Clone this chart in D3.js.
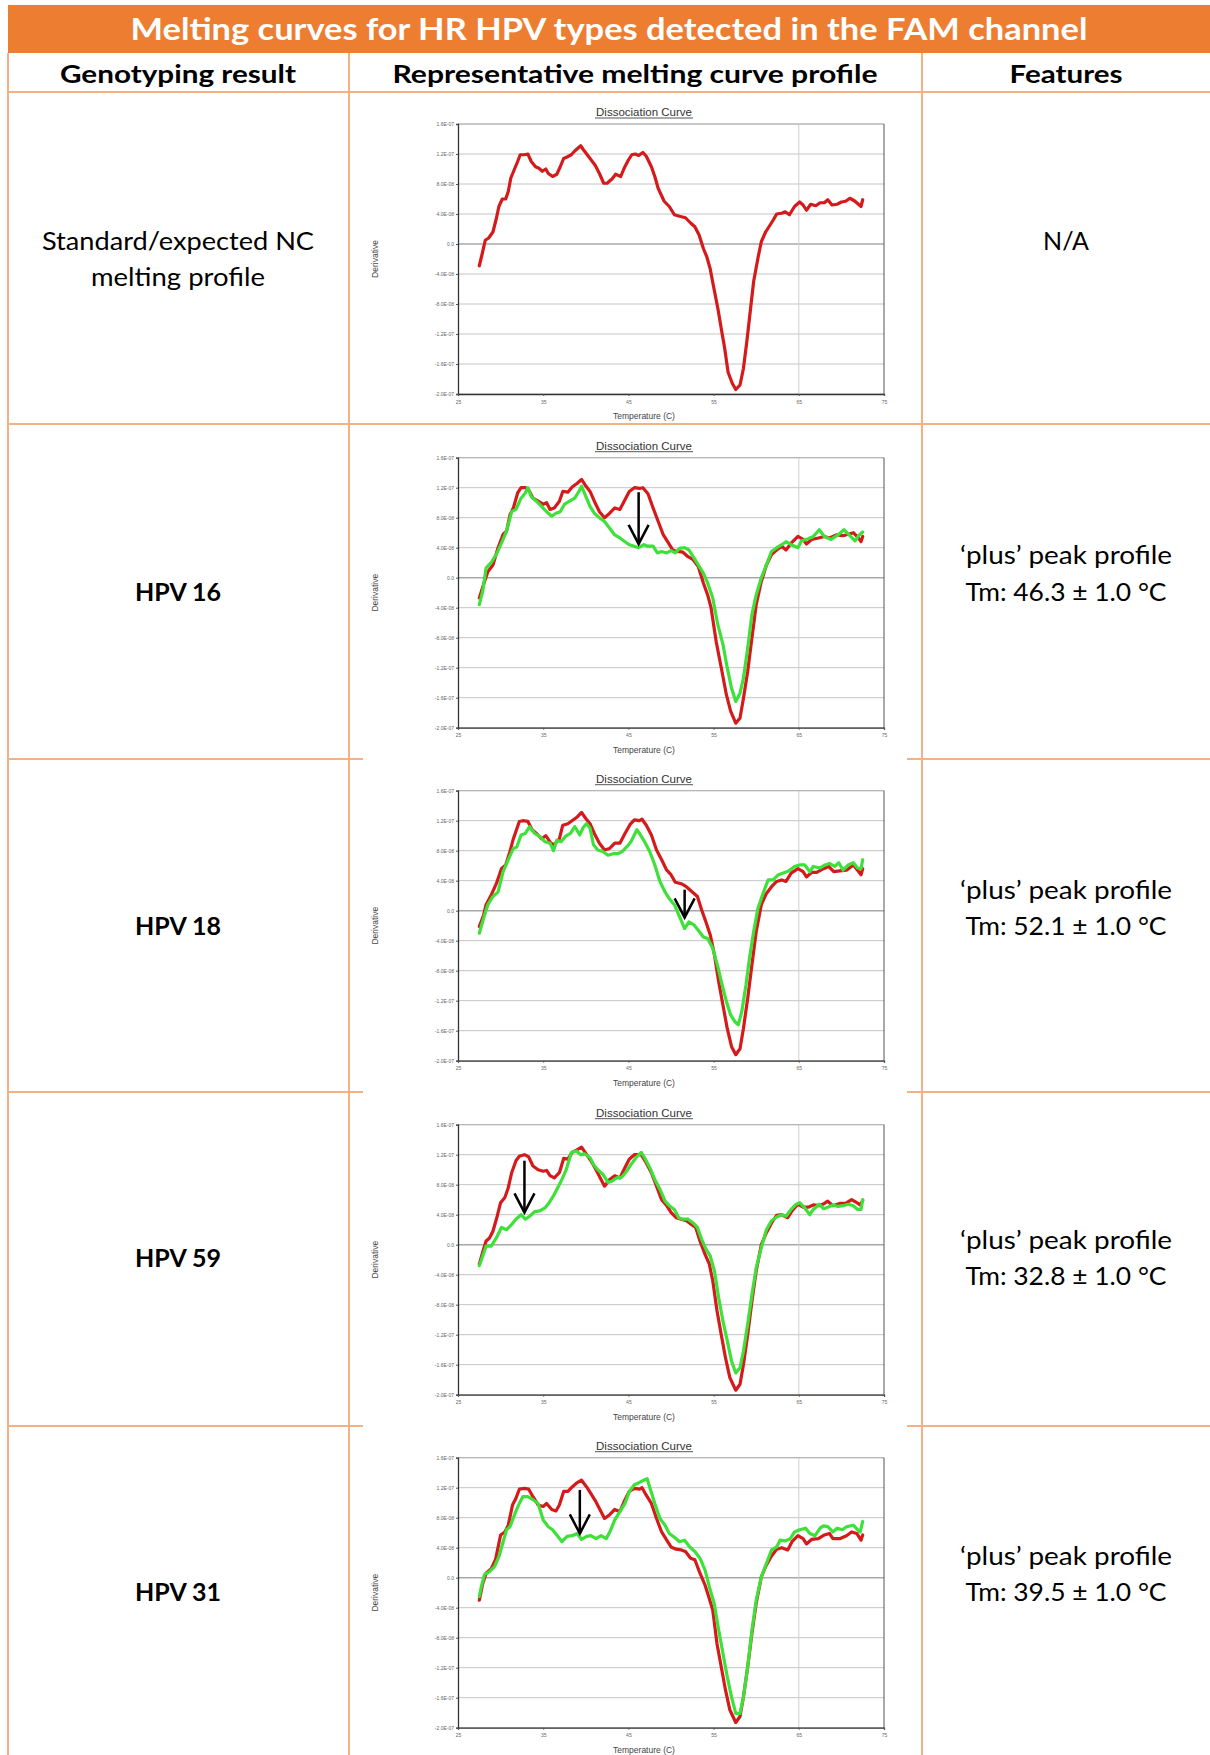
<!DOCTYPE html>
<html><head><meta charset="utf-8">
<script src="https://cdn.jsdelivr.net/npm/d3@7"></script>
<style>body{margin:0;background:#fff;} svg{display:block;}</style>
</head><body>
<svg id="c" width="1210" height="1755"></svg>
<script>
// ---------------- DATA ----------------
const tableTitle = "Melting curves for HR HPV types detected in the FAM channel";
const columnHeaders = ["Genotyping result", "Representative melting curve profile", "Features"];
const rowLabels = [["Standard/expected NC", "melting profile"], ["HPV 16"], ["HPV 18"], ["HPV 59"], ["HPV 31"]];
const rowLabelBold = [false, true, true, true, true];
const rowFeatures = [["N/A"],
  ["\u2018plus\u2019 peak profile", "Tm: 46.3 \u00b1 1.0 \u00b0C"],
  ["\u2018plus\u2019 peak profile", "Tm: 52.1 \u00b1 1.0 \u00b0C"],
  ["\u2018plus\u2019 peak profile", "Tm: 32.8 \u00b1 1.0 \u00b0C"],
  ["\u2018plus\u2019 peak profile", "Tm: 39.5 \u00b1 1.0 \u00b0C"]];

const chartTitle = "Dissociation Curve";
const xAxisTitle = "Temperature (C)";
const yAxisTitle = "Derivative";
const xTickValues = [25, 35, 45, 55, 65, 75];
const xTickLabels = ["25", "35", "45", "55", "65", "75"];
// derivative values in units of 1e-7
const yTickValues = [-2.0, -1.6, -1.2, -0.8, -0.4, 0, 0.4, 0.8, 1.2, 1.6];
const yTickLabels = ["-2.0E-07", "-1.6E-07", "-1.2E-07", "-8.0E-08", "-4.0E-08", "0.0", "4.0E-08", "8.0E-08", "1.2E-07", "1.6E-07"];
const xGridValues = [65];

// [temperature, derivative (x1e-7)]
const ncRed = [[27.5,-0.29],[27.8,-0.15],[28.2,0.05],[28.6,0.08],[29.1,0.16],[29.5,0.34],[29.8,0.50],[30.2,0.60],[30.6,0.60],[30.9,0.70],[31.2,0.88],[31.6,0.99],[32.0,1.10],[32.3,1.19],[32.8,1.19],[33.2,1.20],[33.6,1.10],[34.1,1.03],[34.5,1.01],[34.9,0.97],[35.3,1.00],[35.6,0.94],[36.1,0.90],[36.6,0.93],[37.0,1.03],[37.4,1.14],[37.8,1.16],[38.3,1.19],[38.7,1.24],[39.1,1.28],[39.4,1.31],[39.7,1.26],[40.1,1.20],[40.5,1.14],[41.1,1.05],[41.6,0.94],[42.1,0.81],[42.5,0.81],[43.1,0.87],[43.5,0.93],[44.1,0.90],[44.5,1.01],[45.0,1.12],[45.4,1.19],[45.8,1.20],[46.2,1.18],[46.7,1.22],[47.1,1.17],[47.7,1.03],[48.1,0.90],[48.5,0.74],[49.2,0.57],[49.8,0.50],[50.4,0.39],[51.0,0.37],[51.7,0.35],[52.3,0.28],[52.8,0.23],[53.3,0.12],[53.8,-0.06],[54.2,-0.17],[54.6,-0.33],[55.0,-0.57],[55.5,-0.86],[55.9,-1.13],[56.3,-1.39],[56.7,-1.71],[57.2,-1.86],[57.6,-1.94],[58.1,-1.88],[58.5,-1.66],[58.9,-1.30],[59.3,-0.90],[59.7,-0.50],[60.2,-0.19],[60.6,0.03],[61.1,0.16],[61.5,0.23],[62.0,0.32],[62.4,0.40],[63.0,0.41],[63.4,0.43],[63.9,0.39],[64.5,0.50],[65.1,0.56],[65.5,0.52],[65.9,0.45],[66.4,0.53],[67.0,0.51],[67.5,0.55],[68.0,0.55],[68.4,0.59],[68.9,0.52],[69.5,0.53],[70.0,0.56],[70.5,0.57],[71.0,0.61],[71.6,0.57],[72.0,0.53],[72.3,0.50],[72.5,0.59]];

const hpv16Red = [[27.5,-0.27],[28.0,-0.09],[28.5,0.08],[29.1,0.17],[29.7,0.40],[30.3,0.58],[30.7,0.62],[31.1,0.84],[31.5,0.93],[32.0,1.13],[32.4,1.20],[32.9,1.20],[33.3,1.17],[33.8,1.06],[34.4,1.02],[35.0,0.98],[35.4,1.00],[35.8,0.91],[36.3,0.93],[36.9,1.02],[37.3,1.15],[37.9,1.14],[38.4,1.21],[39.0,1.26],[39.5,1.31],[39.9,1.24],[40.5,1.15],[41.0,1.02],[41.6,0.88],[42.2,0.80],[42.8,0.86],[43.4,0.93],[44.0,0.91],[44.6,1.04],[45.1,1.15],[45.7,1.20],[46.3,1.19],[46.7,1.20],[47.3,1.12],[47.9,0.93],[48.5,0.75],[49.1,0.57],[49.6,0.48],[50.2,0.37],[50.7,0.35],[51.4,0.34],[52.0,0.28],[52.6,0.24],[53.2,0.15],[53.8,-0.07],[54.3,-0.23],[54.7,-0.40],[55.3,-0.85],[55.9,-1.20],[56.5,-1.56],[57.0,-1.78],[57.6,-1.94],[58.1,-1.87],[58.5,-1.61],[59.0,-1.25],[59.5,-0.80],[60.0,-0.36],[60.6,-0.05],[61.2,0.17],[61.8,0.31],[62.4,0.37],[63.0,0.42],[63.5,0.37],[64.1,0.46],[64.9,0.55],[65.5,0.51],[65.9,0.45],[66.5,0.51],[67.3,0.53],[68.0,0.55],[68.6,0.53],[69.4,0.57],[70.2,0.56],[70.8,0.58],[71.4,0.60],[72.0,0.53],[72.3,0.48],[72.5,0.55]];
const hpv16Green = [[27.5,-0.36],[27.9,-0.18],[28.3,0.13],[28.9,0.20],[29.5,0.31],[30.1,0.46],[30.7,0.62],[31.3,0.88],[31.8,0.91],[32.4,1.06],[32.9,1.13],[33.2,1.20],[33.6,1.08],[34.2,1.02],[34.8,0.95],[35.4,0.88],[36.0,0.82],[36.5,0.86],[37.0,0.88],[37.5,0.98],[38.1,1.02],[38.7,1.06],[39.2,1.15],[39.5,1.22],[39.9,1.11],[40.5,0.95],[41.0,0.86],[41.6,0.80],[42.2,0.75],[42.8,0.66],[43.4,0.57],[44.0,0.53],[44.6,0.48],[45.1,0.44],[45.7,0.42],[46.2,0.40],[46.8,0.44],[47.3,0.42],[47.9,0.42],[48.4,0.33],[48.9,0.35],[49.5,0.33],[50.0,0.36],[50.5,0.33],[51.0,0.39],[51.6,0.40],[52.1,0.37],[52.6,0.28],[53.2,0.17],[53.8,0.06],[54.3,-0.07],[54.9,-0.27],[55.5,-0.63],[56.1,-0.89],[56.6,-1.20],[57.1,-1.47],[57.6,-1.65],[58.1,-1.54],[58.5,-1.34],[59.0,-0.94],[59.5,-0.49],[60.0,-0.23],[60.6,0.00],[61.2,0.17],[61.8,0.35],[62.4,0.40],[63.0,0.44],[63.5,0.48],[64.1,0.44],[64.9,0.40],[65.3,0.49],[66.1,0.52],[66.7,0.55],[67.4,0.64],[68.0,0.55],[68.8,0.51],[69.6,0.57],[70.3,0.64],[70.9,0.57],[71.6,0.49],[72.1,0.57],[72.5,0.61]];

const hpv18Red = [[27.5,-0.21],[28.0,-0.06],[28.3,0.08],[28.9,0.21],[29.5,0.36],[30.1,0.56],[30.6,0.61],[31.1,0.79],[31.5,0.96],[32.2,1.19],[32.6,1.20],[33.2,1.19],[33.7,1.08],[34.2,1.03],[34.8,0.96],[35.3,1.00],[35.9,0.90],[36.3,0.88],[36.9,0.96],[37.3,1.14],[37.9,1.16],[38.5,1.21],[39.0,1.25],[39.5,1.31],[40.0,1.23],[40.5,1.16],[41.0,1.03],[41.6,0.90],[42.2,0.81],[42.8,0.83],[43.4,0.90],[44.0,0.90],[44.6,1.03],[45.2,1.15],[45.7,1.21],[46.3,1.20],[46.6,1.22],[47.1,1.14],[47.7,1.01],[48.3,0.81],[48.9,0.68],[49.5,0.54],[50.0,0.48],[50.5,0.38],[51.2,0.36],[51.8,0.32],[52.5,0.25],[53.1,0.19],[53.6,0.01],[54.1,-0.15],[54.6,-0.32],[55.1,-0.59],[55.6,-0.95],[56.1,-1.26],[56.6,-1.57],[57.1,-1.81],[57.6,-1.92],[58.1,-1.84],[58.5,-1.57],[59.0,-1.17],[59.5,-0.72],[60.0,-0.28],[60.6,0.08],[61.2,0.23],[61.8,0.32],[62.4,0.39],[63.0,0.41],[63.5,0.39],[64.1,0.50],[64.9,0.56],[65.5,0.52],[65.9,0.45],[66.5,0.51],[67.1,0.51],[67.9,0.56],[68.5,0.59],[69.1,0.52],[69.8,0.53],[70.6,0.54],[71.4,0.61],[71.9,0.54],[72.3,0.48],[72.5,0.56]];
const hpv18Green = [[27.5,-0.30],[28.0,-0.10],[28.5,0.08],[29.1,0.19],[29.7,0.25],[30.3,0.52],[30.9,0.68],[31.5,0.83],[31.9,0.85],[32.4,1.01],[32.9,1.03],[33.4,1.12],[34.0,1.03],[34.6,0.99],[35.2,0.92],[35.8,0.90],[36.2,0.80],[36.6,0.94],[37.1,0.92],[37.6,0.99],[38.2,1.03],[38.7,1.12],[39.3,1.01],[39.7,1.11],[40.1,1.16],[40.5,1.10],[40.9,0.88],[41.4,0.81],[42.0,0.79],[42.6,0.74],[43.2,0.76],[43.8,0.76],[44.3,0.79],[44.8,0.85],[45.3,0.92],[46.0,1.08],[46.3,1.03],[46.9,0.92],[47.5,0.79],[48.1,0.61],[48.7,0.39],[49.3,0.25],[49.8,0.16],[50.4,0.08],[51.0,-0.08],[51.6,-0.24],[52.1,-0.15],[52.7,-0.19],[53.2,-0.26],[53.8,-0.35],[54.3,-0.37],[54.9,-0.50],[55.5,-0.75],[56.0,-0.99],[56.5,-1.21],[57.0,-1.39],[57.5,-1.48],[57.9,-1.52],[58.3,-1.35],[58.8,-0.99],[59.2,-0.64],[59.7,-0.28],[60.2,0.03],[60.8,0.23],[61.4,0.41],[62.0,0.41],[62.6,0.48],[63.1,0.50],[63.8,0.53],[64.5,0.59],[65.1,0.61],[65.7,0.61],[66.3,0.52],[66.7,0.59],[67.5,0.57],[68.1,0.61],[68.6,0.63],[69.2,0.59],[69.7,0.64],[70.2,0.54],[70.8,0.61],[71.4,0.64],[71.9,0.57],[72.3,0.56],[72.5,0.68]];

const hpv59Red = [[27.5,-0.26],[28.0,-0.06],[28.3,0.05],[28.7,0.09],[29.1,0.18],[29.6,0.38],[30.0,0.56],[30.5,0.63],[30.9,0.76],[31.3,0.96],[31.8,1.12],[32.2,1.18],[32.8,1.20],[33.3,1.17],[33.8,1.05],[34.4,1.00],[35.0,0.98],[35.4,0.99],[35.8,0.92],[36.3,0.89],[36.9,0.96],[37.4,1.15],[37.9,1.14],[38.4,1.23],[38.9,1.26],[39.5,1.30],[40.1,1.20],[40.6,1.12],[41.2,1.00],[41.7,0.89],[42.2,0.78],[42.8,0.87],[43.4,0.92],[44.0,0.89],[44.6,1.03],[45.1,1.14],[45.7,1.20],[46.5,1.20],[47.1,1.09],[47.7,0.96],[48.3,0.78],[48.9,0.60],[49.5,0.52],[50.0,0.43],[50.6,0.36],[51.2,0.34],[51.8,0.32],[52.4,0.27],[52.9,0.23],[53.4,0.05],[54.0,-0.13],[54.5,-0.26],[54.9,-0.48],[55.4,-0.88],[55.9,-1.20],[56.4,-1.51],[56.9,-1.77],[57.6,-1.94],[58.1,-1.86],[58.5,-1.60],[59.0,-1.20],[59.5,-0.75],[60.0,-0.35],[60.6,0.00],[61.2,0.16],[61.8,0.29],[62.4,0.39],[63.0,0.40],[63.7,0.36],[64.2,0.45],[64.9,0.54],[65.5,0.50],[66.1,0.50],[66.7,0.53],[67.4,0.52],[68.0,0.55],[68.4,0.58],[69.0,0.52],[69.8,0.55],[70.5,0.55],[71.2,0.60],[71.8,0.56],[72.2,0.53],[72.5,0.59]];
const hpv59Green = [[27.5,-0.28],[27.9,-0.15],[28.3,-0.02],[28.9,-0.02],[29.5,0.09],[30.1,0.23],[30.7,0.20],[31.3,0.27],[31.8,0.34],[32.4,0.40],[32.9,0.34],[33.4,0.38],[34.0,0.44],[34.6,0.45],[35.2,0.49],[35.7,0.56],[36.2,0.65],[36.7,0.76],[37.2,0.87],[37.7,1.00],[38.3,1.23],[38.9,1.25],[39.4,1.20],[39.9,1.21],[40.5,1.16],[40.9,1.07],[41.4,1.00],[42.0,0.94],[42.6,0.83],[43.1,0.85],[43.6,0.89],[44.2,0.90],[44.8,0.98],[45.3,1.07],[45.9,1.16],[46.5,1.23],[46.9,1.16],[47.5,1.03],[48.1,0.87],[48.7,0.74],[49.3,0.58],[49.8,0.52],[50.4,0.47],[50.9,0.36],[51.4,0.34],[52.0,0.34],[52.6,0.29],[53.1,0.23],[53.6,0.07],[54.1,-0.06],[54.6,-0.15],[55.1,-0.35],[55.6,-0.71],[56.1,-1.02],[56.6,-1.28],[57.1,-1.55],[57.6,-1.71],[58.1,-1.64],[58.5,-1.42],[59.0,-1.06],[59.5,-0.66],[60.0,-0.31],[60.6,-0.04],[61.2,0.20],[61.8,0.32],[62.4,0.37],[63.0,0.40],[63.5,0.38],[64.1,0.47],[64.7,0.54],[65.1,0.56],[65.7,0.49],[66.3,0.40],[66.7,0.47],[67.4,0.54],[67.9,0.48],[68.4,0.50],[69.0,0.53],[69.6,0.51],[70.2,0.52],[70.8,0.54],[71.4,0.52],[71.9,0.47],[72.3,0.47],[72.5,0.60]];

const hpv31Red = [[27.5,-0.30],[27.9,-0.08],[28.3,0.06],[28.9,0.12],[29.4,0.24],[30.0,0.57],[30.5,0.61],[30.9,0.70],[31.4,0.97],[31.8,1.06],[32.2,1.18],[32.8,1.19],[33.3,1.18],[33.8,1.08],[34.4,0.97],[35.0,0.95],[35.4,0.99],[36.0,0.91],[36.5,0.89],[36.9,0.97],[37.4,1.15],[37.9,1.15],[38.4,1.21],[38.9,1.26],[39.5,1.30],[40.1,1.21],[40.6,1.12],[41.2,1.01],[41.7,0.90],[42.2,0.79],[42.8,0.84],[43.4,0.91],[44.0,0.88],[44.6,1.04],[45.1,1.15],[45.7,1.19],[46.3,1.18],[46.6,1.20],[47.1,1.10],[47.7,0.99],[48.3,0.79],[48.9,0.61],[49.5,0.50],[50.0,0.41],[50.6,0.38],[51.2,0.37],[51.7,0.35],[52.3,0.26],[52.8,0.24],[53.4,0.06],[54.0,-0.10],[54.5,-0.28],[54.9,-0.43],[55.4,-0.88],[55.9,-1.19],[56.4,-1.50],[56.9,-1.76],[57.6,-1.93],[58.1,-1.85],[58.5,-1.59],[59.0,-1.19],[59.5,-0.74],[60.0,-0.34],[60.6,0.01],[61.2,0.17],[61.8,0.29],[62.4,0.38],[63.0,0.40],[63.7,0.37],[64.2,0.48],[64.9,0.56],[65.5,0.52],[65.9,0.45],[66.5,0.51],[67.3,0.52],[68.0,0.57],[68.6,0.59],[69.0,0.52],[69.8,0.52],[70.6,0.56],[71.2,0.61],[71.8,0.59],[72.3,0.50],[72.5,0.57]];
const hpv31Green = [[27.5,-0.25],[27.7,-0.14],[28.1,0.04],[28.7,0.08],[29.3,0.15],[29.8,0.28],[30.3,0.48],[30.7,0.64],[31.1,0.68],[31.7,0.86],[32.2,0.99],[32.6,1.08],[33.2,1.08],[33.8,1.04],[34.4,0.99],[35.0,0.77],[35.6,0.68],[36.1,0.64],[36.6,0.57],[37.2,0.48],[37.8,0.55],[38.4,0.56],[39.0,0.59],[39.5,0.51],[40.1,0.55],[40.6,0.56],[41.2,0.52],[41.8,0.56],[42.4,0.52],[42.9,0.63],[43.4,0.77],[44.0,0.88],[44.6,0.99],[45.1,1.15],[45.7,1.24],[46.3,1.27],[46.8,1.30],[47.2,1.32],[47.6,1.17],[48.1,0.99],[48.7,0.79],[49.3,0.70],[49.8,0.59],[50.4,0.54],[51.0,0.48],[51.6,0.50],[52.2,0.41],[52.8,0.35],[53.4,0.26],[54.0,0.10],[54.5,-0.12],[55.1,-0.36],[55.6,-0.70],[56.1,-1.01],[56.6,-1.32],[57.1,-1.59],[57.6,-1.81],[58.1,-1.81],[58.5,-1.59],[59.0,-1.19],[59.5,-0.70],[60.0,-0.30],[60.6,0.01],[61.2,0.19],[61.8,0.37],[62.4,0.41],[62.8,0.50],[63.4,0.49],[64.0,0.52],[64.5,0.61],[65.1,0.64],[65.8,0.66],[66.3,0.59],[66.9,0.56],[67.5,0.66],[67.9,0.69],[68.4,0.68],[69.0,0.61],[69.5,0.66],[70.1,0.64],[70.6,0.68],[71.4,0.70],[71.9,0.64],[72.2,0.61],[72.5,0.75]];

// arrows: [temperature, derivative at arrow top, derivative at arrow tip]
const arrowMarks = [null, [46.2, 1.14, 0.45], [51.6, 0.28, -0.09], [32.8, 1.12, 0.43], [39.3, 1.17, 0.59]];
const rowSeries = [[ncRed], [hpv16Red, hpv16Green], [hpv18Red, hpv18Green], [hpv59Red, hpv59Green], [hpv31Red, hpv31Green]];
const seriesColors = ["#d41a1a", "#3ee03a"];

// ---------------- LAYOUT ----------------
const W = 1210;
const ORANGE = "#ED7D31", LINE = "#F4B183";
const FONT = "Lato, 'Open Sans', sans-serif";
const CFONT = "'Liberation Sans', Arial, sans-serif";
const svg = d3.select("#c");

const rowTops = [92, 424, 759, 1092, 1426, 1755];
const colX = [8, 349, 922];

// title band
svg.append("rect").attr("x", 8).attr("y", 5).attr("width", W - 8).attr("height", 48).attr("fill", ORANGE);
svg.append("text").attr("x", 609).attr("y", 40).attr("text-anchor", "middle")
  .attr("fill", "#fff").attr("font-family", FONT).attr("font-weight", 700).attr("font-size", 30)
  .attr("textLength", 957).attr("lengthAdjust", "spacingAndGlyphs").text(tableTitle);

// grid lines of the table
colX.forEach(x => svg.append("line").attr("x1", x).attr("x2", x).attr("y1", 53).attr("y2", 1755)
  .attr("stroke", LINE).attr("stroke-width", 2));
rowTops.slice(0, 5).forEach(y => svg.append("line").attr("x1", 8).attr("x2", W).attr("y1", y).attr("y2", y)
  .attr("stroke", LINE).attr("stroke-width", 2.2));
// chart images overlapping row boundaries
[759, 1092, 1426].forEach(y => svg.append("rect").attr("x", 363).attr("y", y - 3).attr("width", 544).attr("height", 6).attr("fill", "#fff"));

// column headers
const headerX = [178, 635, 1066], headerW = [236, 485, 113];
columnHeaders.forEach((t, i) => svg.append("text").attr("x", headerX[i]).attr("y", 83)
  .attr("text-anchor", "middle").attr("font-family", FONT).attr("font-weight", 700).attr("font-size", 25)
  .attr("textLength", headerW[i]).attr("lengthAdjust", "spacingAndGlyphs").text(t));

// row texts
const labelBaselines = [[250, 286], [601], [935], [1267], [1601]];
const featureBaselines = [[250], [564, 601], [899, 935], [1249, 1285], [1565, 1601]];
const textWidths = {"Standard/expected NC": 272, "melting profile": 174, "N/A": 46, "\u2018plus\u2019 peak profile": 212};
function addText(x, y, t, bold) {
  const el = svg.append("text").attr("x", x).attr("y", y).attr("text-anchor", "middle")
    .attr("font-family", FONT).attr("font-weight", bold ? 700 : 400).attr("font-size", 25).attr("fill", "#000").text(t);
  const w = textWidths[t] || (t.startsWith("Tm:") ? 201 : null);
  if (w) el.attr("textLength", w).attr("lengthAdjust", "spacingAndGlyphs");
  return el;
}
rowLabels.forEach((lines, r) => lines.forEach((t, k) => addText(178, labelBaselines[r][k], t, rowLabelBold[r])));
rowFeatures.forEach((lines, r) => lines.forEach((t, k) => addText(1066, featureBaselines[r][k], t, false)));

// ---------------- CHARTS ----------------
const plotLeft = 458, plotW = 426, plotH = 270;
const plotTops = [124, 457.7, 790.7, 1124.7, 1457.7];

plotTops.forEach((top, r) => {
  const g = svg.append("g");
  const x = d3.scaleLinear().domain([25, 75]).range([plotLeft, plotLeft + plotW]);
  const y = d3.scaleLinear().domain([-2.0, 1.6]).range([top + plotH, top]);

  // horizontal gridlines
  g.selectAll(".hg").data(yTickValues).enter().append("line")
    .attr("x1", plotLeft).attr("x2", plotLeft + plotW)
    .attr("y1", d => y(d)).attr("y2", d => y(d))
    .attr("stroke", d => d === 0 ? "#a8a8a8" : "#c4c4c4").attr("stroke-width", d => d === 0 ? 1.6 : 1);
  g.selectAll(".vg").data(xGridValues).enter().append("line")
    .attr("x1", d => x(d)).attr("x2", d => x(d)).attr("y1", top).attr("y2", top + plotH)
    .attr("stroke", "#cfcfcf").attr("stroke-width", 1);

  // frame
  g.append("line").attr("x1", plotLeft).attr("x2", plotLeft + plotW).attr("y1", top).attr("y2", top).attr("stroke", "#b0b0b0");
  g.append("line").attr("x1", plotLeft + plotW).attr("x2", plotLeft + plotW).attr("y1", top).attr("y2", top + plotH).attr("stroke", "#4d5a4d");

  // axes
  const yAxis = d3.axisLeft(y).tickValues(yTickValues).tickFormat((d, i) => yTickLabels[i]).tickSize(2).tickPadding(2);
  const xAxis = d3.axisBottom(x).tickValues(xTickValues).tickFormat((d, i) => xTickLabels[i]).tickSize(2).tickPadding(4);
  const ya = g.append("g").attr("transform", `translate(${plotLeft},0)`).call(yAxis);
  const xa = g.append("g").attr("transform", `translate(0,${top + plotH})`).call(xAxis);
  [ya, xa].forEach(a => {
    a.select(".domain").attr("stroke", "#333").attr("stroke-width", 1.3);
    a.selectAll(".tick line").attr("stroke", "#555");
    a.selectAll(".tick text").attr("font-family", CFONT).attr("font-size", 5).attr("fill", "#666");
  });

  // titles
  g.append("text").attr("x", 644).attr("y", top - 8).attr("text-anchor", "middle")
    .attr("font-family", CFONT).attr("font-size", 11.5).attr("fill", "#333").text(chartTitle);
  g.append("line").attr("x1", 595).attr("x2", 693).attr("y1", top - 6).attr("y2", top - 6).attr("stroke", "#555").attr("stroke-width", 1);
  g.append("text").attr("x", 644).attr("y", top + plotH + 25).attr("text-anchor", "middle")
    .attr("font-family", CFONT).attr("font-size", 8.5).attr("fill", "#444").text(xAxisTitle);
  g.append("text").attr("transform", `translate(378,${top + plotH / 2}) rotate(-90)`).attr("text-anchor", "middle")
    .attr("font-family", CFONT).attr("font-size", 8.5).attr("fill", "#444").text(yAxisTitle);

  // curves
  const line = d3.line().x(d => x(d[0])).y(d => y(d[1])).curve(d3.curveLinear);
  rowSeries[r].forEach((s, i) => g.append("path").datum(s).attr("d", line)
    .attr("fill", "none").attr("stroke", seriesColors[i]).attr("stroke-width", 3.2)
    .attr("stroke-linejoin", "round").attr("stroke-linecap", "round"));

  // arrow
  const a = arrowMarks[r];
  if (a) {
    const ax = x(a[0]), y0 = y(a[1]), y1 = y(a[2]);
    g.append("line").attr("x1", ax).attr("x2", ax).attr("y1", y0).attr("y2", y1).attr("stroke", "#000").attr("stroke-width", 2.5);
    g.append("path").attr("d", `M${ax - 10},${y1 - 19}L${ax},${y1}L${ax + 10},${y1 - 19}`)
      .attr("fill", "none").attr("stroke", "#000").attr("stroke-width", 2.5);
  }
});
</script>
</body></html>
